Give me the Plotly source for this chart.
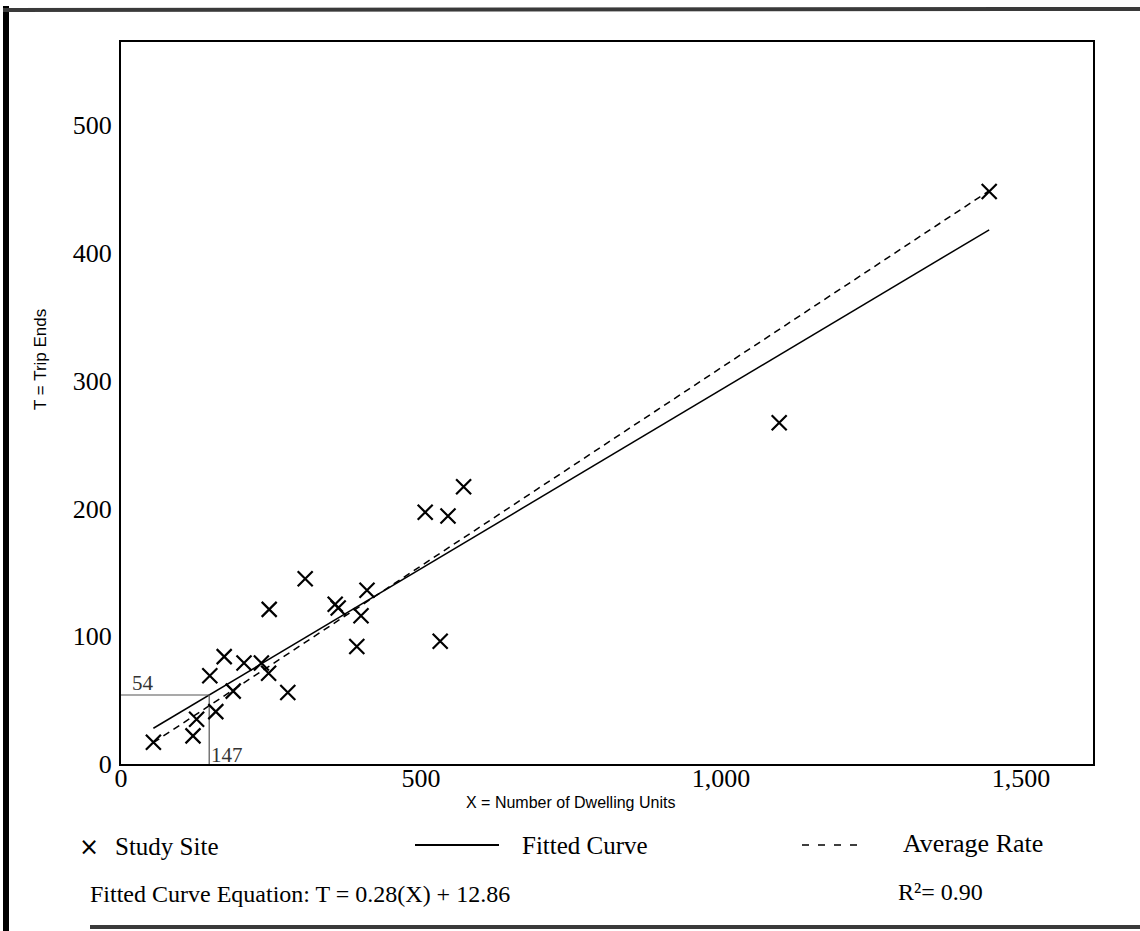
import plotly.graph_objects as go

# ---- data ----
site_x = [54, 120, 126, 148, 158, 172, 187, 205, 234, 246, 247, 278, 307,
          357, 362, 393, 400, 410, 507, 532, 545, 571, 1097, 1447]
site_t = [17, 22, 35, 69, 41, 84, 57, 79, 79, 71, 121, 56, 145,
          125, 122, 92, 116, 136, 197, 96, 194, 217, 267, 448]

fit_slope = 0.28
fit_intercept = 12.86
avg_rate = 0.31
line_x = [54, 1447]

x_tickvals = [0, 500, 1000, 1500]
x_ticktext = ["0", "500", "1,000", "1,500"]
y_tickvals = [0, 100, 200, 300, 400, 500]
y_ticktext = ["0", "100", "200", "300", "400", "500"]

ref_x = 147
ref_t = 54

# ---- layout geometry (pixels) ----
W, H = 1140, 931
L, R, T, B = 121, 1093, 42, 764  # plot area edges


def px(xp):
    return (xp - L) / (R - L)


def py(yp):
    return (B - yp) / (B - T)


SERIF = "Liberation Serif, Times New Roman, serif"
SANS = "Liberation Sans, Arial, sans-serif"

fig = go.Figure()

fit_y = [fit_slope * v + fit_intercept for v in line_x]
avg_y = [avg_rate * v for v in line_x]

fig.add_trace(go.Scatter(x=line_x, y=fit_y, mode="lines",
                         line=dict(color="black", width=1.5), showlegend=False))
fig.add_trace(go.Scatter(x=line_x, y=avg_y, mode="lines",
                         line=dict(color="black", width=1.5, dash="7px,5px"),
                         showlegend=False))
# reference guide lines at 147 / 54
fig.add_trace(go.Scatter(x=[0, ref_x, ref_x], y=[ref_t, ref_t, 0], mode="lines",
                         line=dict(color="#555555", width=1.2), showlegend=False))
fig.add_trace(go.Scatter(x=site_x, y=site_t, mode="markers",
                         marker=dict(symbol="x-thin", size=15,
                                     line=dict(color="black", width=2.2)),
                         showlegend=False))

annotations = [
    dict(text=str(ref_t), x=px(130), y=py(683), xref="paper", yref="paper",
         xanchor="left", yanchor="middle", showarrow=False,
         font=dict(family=SERIF, size=21, color="#333333")),
    dict(text=str(ref_x), x=px(209), y=py(755), xref="paper", yref="paper",
         xanchor="left", yanchor="middle", showarrow=False,
         font=dict(family=SERIF, size=21, color="#333333")),
    dict(text="T = Trip Ends", x=px(40), y=py(360), xref="paper", yref="paper",
         xanchor="center", yanchor="middle", textangle=-90, showarrow=False,
         font=dict(family=SANS, size=17, color="black")),
    dict(text="X = Number of Dwelling Units", x=px(570), y=py(802), xref="paper",
         yref="paper", xanchor="center", yanchor="middle", showarrow=False,
         font=dict(family=SANS, size=16, color="black")),
    dict(text="×", x=px(89), y=py(847), xref="paper", yref="paper",
         xanchor="center", yanchor="middle", showarrow=False,
         font=dict(family="DejaVu Sans", size=24, color="black")),
    dict(text="Study Site", x=px(113), y=py(847), xref="paper", yref="paper",
         xanchor="left", yanchor="middle", showarrow=False,
         font=dict(family=SERIF, size=25, color="black")),
    dict(text="Fitted Curve", x=px(520), y=py(845), xref="paper", yref="paper",
         xanchor="left", yanchor="middle", showarrow=False,
         font=dict(family=SERIF, size=25, color="black")),
    dict(text="Average Rate", x=px(901), y=py(843), xref="paper", yref="paper",
         xanchor="left", yanchor="middle", showarrow=False,
         font=dict(family=SERIF, size=26, color="black")),
    dict(text=f"Fitted Curve Equation: T = {fit_slope:.2f}(X) + {fit_intercept:.2f}",
         x=px(88), y=py(894), xref="paper", yref="paper",
         xanchor="left", yanchor="middle", showarrow=False,
         font=dict(family=SERIF, size=24, color="black")),
    dict(text="R²= 0.90", x=px(896), y=py(892), xref="paper", yref="paper",
         xanchor="left", yanchor="middle", showarrow=False,
         font=dict(family=SERIF, size=24, color="black")),
]

shapes = [
    # legend line samples
    dict(type="line", xref="paper", yref="paper", x0=px(415), x1=px(499),
         y0=py(845), y1=py(845), line=dict(color="black", width=1.8)),
    dict(type="line", xref="paper", yref="paper", x0=px(802), x1=px(860),
         y0=py(845), y1=py(845), line=dict(color="black", width=1.5, dash="7px,9px")),
    # outer frame (scan border)
    dict(type="line", xref="paper", yref="paper", x0=px(6), x1=px(6),
         y0=py(6), y1=py(931), line=dict(color="black", width=6)),
    dict(type="line", xref="paper", yref="paper", x0=px(3), x1=px(1140),
         y0=py(10), y1=py(9), line=dict(color="#3a3a3a", width=4)),
    dict(type="line", xref="paper", yref="paper", x0=px(90), x1=px(1140),
         y0=py(927), y1=py(927), line=dict(color="#3a3a3a", width=4)),
]

axis_common = dict(showgrid=False, zeroline=False, showline=True, mirror=True,
                   linecolor="black", linewidth=2, ticks="",
                   tickfont=dict(family=SERIF, size=26, color="black"))

fig.update_layout(
    width=W, height=H,
    margin=dict(l=L, r=W - R, t=T, b=H - B, pad=0),
    paper_bgcolor="white", plot_bgcolor="white",
    showlegend=False,
    xaxis=dict(range=[0, (R - L) / 0.6], tickvals=x_tickvals, ticktext=x_ticktext,
               ticklabelstandoff=-10, **axis_common),
    yaxis=dict(range=[0, (B - T) / 1.278], tickvals=y_tickvals, ticktext=y_ticktext,
               ticklabelstandoff=2, **axis_common),
    annotations=annotations,
    shapes=shapes,
)

fig.write_html("out.html", config={"displayModeBar": False},
               post_script="document.body.style.margin='0';")
